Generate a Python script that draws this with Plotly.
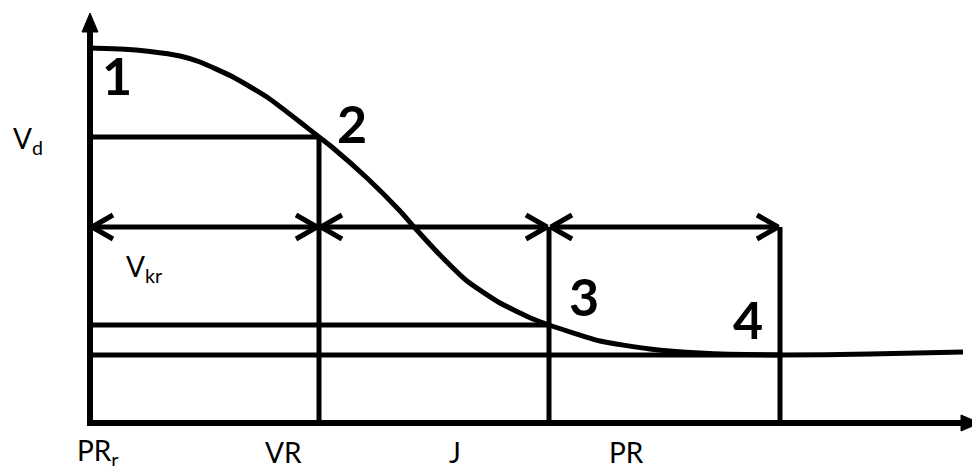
import plotly.graph_objects as go

# ---- data (origin at axes corner; units = horizontal / vertical distance) ----
boundary_x = [0, 229, 459, 690]          # PRr, VR/J boundary, J/PR boundary, end of PR
level_y = [375, 286, 98, 68]             # velocity levels at points 1..4
arrow_y = 196                            # height of dimension arrows
point_labels = ["1", "2", "3", "4"]
zone_labels = ["PR<sub>r</sub>", "VR", "J", "PR"]
zone_label_x = [8, 193, 365, 536]

curve_x = [0, 30, 60, 90, 110, 143, 177, 210, 229, 243, 277, 310, 325, 350,
           377, 410, 443, 459, 510, 560, 610, 690, 780, 873]
curve_y = [375, 374, 371.5, 367, 361, 346, 326, 301, 286, 275, 245, 212, 195, 168,
           142, 120, 104, 98, 82, 74, 70, 68, 69, 71]

x_axis_end = 890
y_axis_end = 410

fig = go.Figure()

def seg(xs, ys, w=5):
    fig.add_trace(go.Scatter(x=xs, y=ys, mode="lines",
                             line=dict(color="black", width=w),
                             hoverinfo="skip", showlegend=False))

# horizontal level lines from y-axis
seg([boundary_x[0], boundary_x[1]], [level_y[1], level_y[1]])
seg([boundary_x[0], boundary_x[2]], [level_y[2], level_y[2]])
seg([boundary_x[0], boundary_x[3]], [level_y[3], level_y[3]])

# vertical boundary lines
seg([boundary_x[1], boundary_x[1]], [0, level_y[1]])
seg([boundary_x[2], boundary_x[2]], [0, arrow_y])
seg([boundary_x[3], boundary_x[3]], [0, arrow_y])

# dimension arrows with open chevrons
ax, ay = 21, 12
for a, b in zip(boundary_x[:-1], boundary_x[1:]):
    a2 = a + 2
    b2 = b - 2
    seg([a2, b2], [arrow_y, arrow_y])
    seg([a2 + ax, a2, a2 + ax], [arrow_y + ay, arrow_y, arrow_y - ay])
    seg([b2 - ax, b2, b2 - ax], [arrow_y + ay, arrow_y, arrow_y - ay])

# curve
fig.add_trace(go.Scatter(x=curve_x, y=curve_y, mode="lines",
                         line=dict(color="black", width=5, shape="spline", smoothing=0.5),
                         hoverinfo="skip", showlegend=False))

# axes
seg([0, 0], [-3, y_axis_end - 16], w=6)
seg([-3, x_axis_end - 16], [0, 0], w=6)
fig.add_trace(go.Scatter(x=[-8, 8, 0, -8], y=[y_axis_end - 19, y_axis_end - 19, y_axis_end, y_axis_end - 19],
                         mode="lines", fill="toself", fillcolor="black",
                         line=dict(color="black", width=1), hoverinfo="skip", showlegend=False))
fig.add_trace(go.Scatter(x=[x_axis_end - 19, x_axis_end - 19, x_axis_end, x_axis_end - 19], y=[-8, 8, 0, -8],
                         mode="lines", fill="toself", fillcolor="black",
                         line=dict(color="black", width=1), hoverinfo="skip", showlegend=False))

ann = []
# point numbers
pt_pos = [(27, 348), (262, 300), (494, 127), (658, 104)]
for t, (px, py) in zip(point_labels, pt_pos):
    ann.append(dict(x=px, y=py, text=t, showarrow=False,
                    font=dict(family="Lato", size=52, color="black", weight="bold"),
                    xanchor="center", yanchor="middle"))
# zone labels
for t, px in zip(zone_labels, zone_label_x):
    ann.append(dict(x=px, y=-29, text=t, showarrow=False,
                    font=dict(family="Lato", size=28, color="black"),
                    xanchor="center", yanchor="middle"))
ann.append(dict(x=-62, y=283, text="V<sub>d</sub>", showarrow=False,
                font=dict(family="Lato", size=28, color="black"),
                xanchor="center", yanchor="middle"))
ann.append(dict(x=54, y=155, text="V<sub>kr</sub>", showarrow=False,
                font=dict(family="Lato", size=28, color="black"),
                xanchor="center", yanchor="middle"))

# ranges offset to compensate for the page's default 8px body margin
fig.update_layout(
    width=980, height=466,
    margin=dict(l=0, r=0, t=0, b=0),
    paper_bgcolor="white", plot_bgcolor="white",
    annotations=ann,
    xaxis=dict(range=[-82, 898], visible=False, fixedrange=True),
    yaxis=dict(range=[-51, 415], visible=False, fixedrange=True),
    showlegend=False,
)
fig.write_html("out.html")
